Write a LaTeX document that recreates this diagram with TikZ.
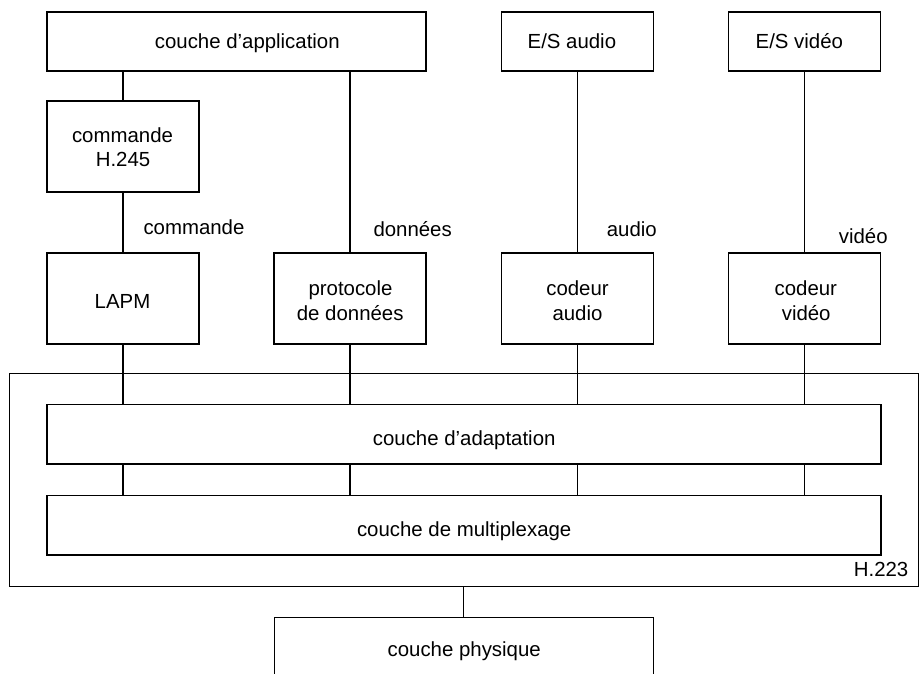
\documentclass[tikz,border=0pt]{standalone}
\usepackage{fontspec}
\setmainfont{Liberation Sans}
\begin{document}
\begin{tikzpicture}[x=1pt,y=-1pt,
  every node/.style={font=\fontsize{20.4}{25}\selectfont},
  blk/.style={draw,line width=1.2pt,rectangle,inner sep=0pt},
  txt/.style={inner sep=0pt,anchor=base},
  lbl/.style={inner sep=0pt,anchor=base west},
  conn/.style={line width=1.2pt}]
\useasboundingbox (0,0) rectangle (924,674);
\clip (0,0) rectangle (924,674);
% boxes
\node[blk,minimum width=379pt,minimum height=59pt] (app) at (236.5,41.5) {};
\node[blk,minimum width=152pt,minimum height=59pt] (esa) at (577.3,41.5) {};
\node[blk,minimum width=152pt,minimum height=59pt] (esv) at (804.7,41.5) {};
\node[blk,minimum width=152pt,minimum height=91pt] (cmd) at (123,146.5) {};
\node[blk,minimum width=152pt,minimum height=91pt] (lapm) at (123,298.5) {};
\node[blk,minimum width=152pt,minimum height=91pt] (proto) at (350,298.5) {};
\node[blk,minimum width=152pt,minimum height=91pt] (coda) at (577.3,298.5) {};
\node[blk,minimum width=152pt,minimum height=91pt] (codv) at (804.7,298.5) {};
\node[blk,minimum width=909pt,minimum height=212.6pt] (h223) at (463.6,480) {};
\node[blk,minimum width=834pt,minimum height=59.7pt] (adapt) at (464,434.2) {};
\node[blk,minimum width=834pt,minimum height=59.7pt] (mux) at (464,525.2) {};
\node[blk,minimum width=379pt,minimum height=60pt] (phys) at (463.6,647.3) {};
% box texts
\node[txt] (appt) at (247.3,48.8) {couche d’application};
\node[txt] (esat) at (571.9,49) {E/S audio};
\node[txt] (esvt) at (799.3,49) {E/S vidéo};
\node[txt] (cmdt1) at (122.5,142.5) {commande};
\node[txt] (cmdt2) at (123,166.7) {H.245};
\node[txt] (lapmt) at (122.5,308.3) {LAPM};
\node[txt] (protot1) at (350.5,295.5) {protocole};
\node[txt] (protot2) at (350.2,320) {de données};
\node[txt] (codat1) at (577.5,295.5) {codeur};
\node[txt] (codat2) at (577.5,320) {audio};
\node[txt] (codvt1) at (805.8,295.5) {codeur};
\node[txt] (codvt2) at (806.2,320) {vidéo};
\node[txt] (adaptt) at (464.2,445.5) {couche d’adaptation};
\node[txt] (muxt) at (464.2,536) {couche de multiplexage};
\node[txt] (physt) at (464.2,656) {couche physique};
\node[inner sep=0pt,anchor=base east] (h223t) at (908.5,576.7) {H.223};
% connector labels
\node[lbl] (lcmd) at (143.3,234.5) {commande};
\node[lbl] (ldon) at (373.3,236) {données};
\node[lbl] (laud) at (606.7,236.5) {audio};
\node[lbl] (lvid) at (838.7,243.3) {vidéo};
% connectors
\draw[conn] (cmd.north) -- (cmd.north |- app.south);
\draw[conn] (cmd.south) -- (lapm.north);
\draw[conn] (proto.north) -- (proto.north |- app.south);
\draw[conn] (esa.south) -- (coda.north);
\draw[conn] (esv.south) -- (codv.north);
\foreach \n in {lapm,proto,coda,codv}{
  \draw[conn] (\n.south) -- (\n.south |- adapt.north);
  \draw[conn] (\n.south |- adapt.south) -- (\n.south |- mux.north);
}
\draw[conn] (phys.north) -- (phys.north |- h223.south);
\end{tikzpicture}
\end{document}
